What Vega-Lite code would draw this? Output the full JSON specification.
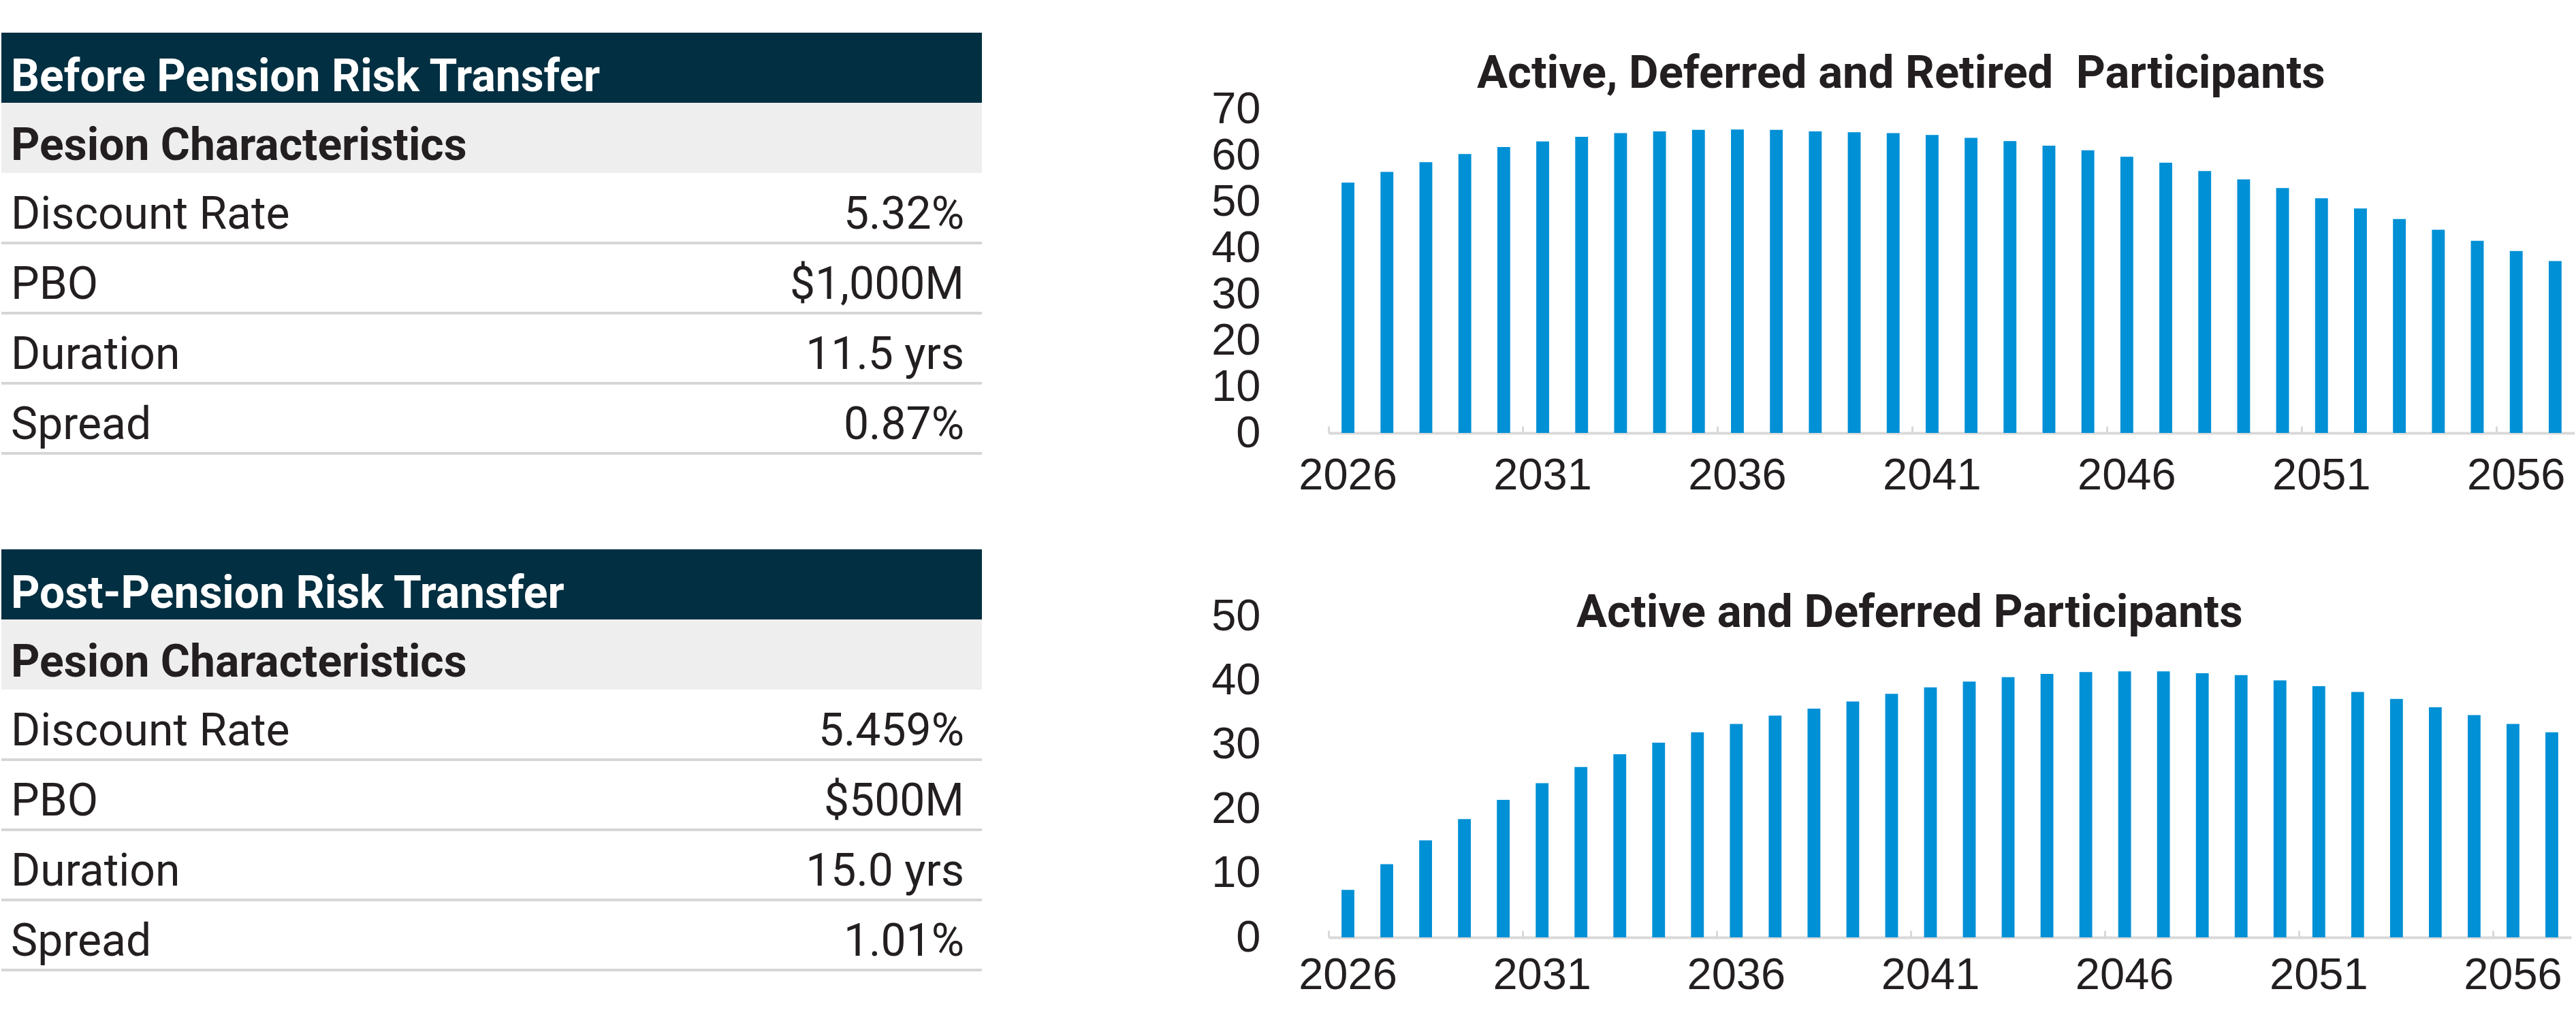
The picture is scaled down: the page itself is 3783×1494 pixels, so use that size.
{
  "$schema": "https://vega.github.io/schema/vega-lite/v6.json",
  "background": "#ffffff",
  "padding": {"top": 48, "left": 0, "right": 0, "bottom": 0},
  "config": {
    "view": {"stroke": null},
    "font": "Roboto"
  },
  "datasets": {
    "pension_tables": [
      {"table": "Before", "row": 1, "kind": "header", "label": "Before Pension Risk Transfer", "value": ""},
      {"table": "Before", "row": 2, "kind": "section", "label": "Pesion Characteristics", "value": ""},
      {"table": "Before", "row": 3, "kind": "item", "label": "Discount Rate", "value": "5.32%"},
      {"table": "Before", "row": 4, "kind": "item", "label": "PBO", "value": "$1,000M"},
      {"table": "Before", "row": 5, "kind": "item", "label": "Duration", "value": "11.5 yrs"},
      {"table": "Before", "row": 6, "kind": "item", "label": "Spread", "value": "0.87%"},
      {"table": "After", "row": 1, "kind": "header", "label": "Post-Pension Risk Transfer", "value": ""},
      {"table": "After", "row": 2, "kind": "section", "label": "Pesion Characteristics", "value": ""},
      {"table": "After", "row": 3, "kind": "item", "label": "Discount Rate", "value": "5.459%"},
      {"table": "After", "row": 4, "kind": "item", "label": "PBO", "value": "$500M"},
      {"table": "After", "row": 5, "kind": "item", "label": "Duration", "value": "15.0 yrs"},
      {"table": "After", "row": 6, "kind": "item", "label": "Spread", "value": "1.01%"}
    ],
    "all_participants": [
      {"year": "2026", "participants": 54.2}, {"year": "2027", "participants": 56.5},
      {"year": "2028", "participants": 58.6}, {"year": "2029", "participants": 60.4},
      {"year": "2030", "participants": 61.9}, {"year": "2031", "participants": 63.1},
      {"year": "2032", "participants": 64.1}, {"year": "2033", "participants": 64.9},
      {"year": "2034", "participants": 65.3}, {"year": "2035", "participants": 65.6},
      {"year": "2036", "participants": 65.7}, {"year": "2037", "participants": 65.6},
      {"year": "2038", "participants": 65.3}, {"year": "2039", "participants": 65.1},
      {"year": "2040", "participants": 64.9}, {"year": "2041", "participants": 64.5},
      {"year": "2042", "participants": 63.9}, {"year": "2043", "participants": 63.2},
      {"year": "2044", "participants": 62.2}, {"year": "2045", "participants": 61.2},
      {"year": "2046", "participants": 59.8}, {"year": "2047", "participants": 58.5},
      {"year": "2048", "participants": 56.7}, {"year": "2049", "participants": 54.9},
      {"year": "2050", "participants": 53.0}, {"year": "2051", "participants": 50.8},
      {"year": "2052", "participants": 48.6}, {"year": "2053", "participants": 46.3},
      {"year": "2054", "participants": 44.0}, {"year": "2055", "participants": 41.6},
      {"year": "2056", "participants": 39.4}, {"year": "2057", "participants": 37.2}
    ],
    "active_deferred": [
      {"year": "2026", "participants": 7.4}, {"year": "2027", "participants": 11.4},
      {"year": "2028", "participants": 15.1}, {"year": "2029", "participants": 18.4},
      {"year": "2030", "participants": 21.4}, {"year": "2031", "participants": 24.0},
      {"year": "2032", "participants": 26.5}, {"year": "2033", "participants": 28.5},
      {"year": "2034", "participants": 30.3}, {"year": "2035", "participants": 31.9},
      {"year": "2036", "participants": 33.2}, {"year": "2037", "participants": 34.5},
      {"year": "2038", "participants": 35.6}, {"year": "2039", "participants": 36.7},
      {"year": "2040", "participants": 37.9}, {"year": "2041", "participants": 38.9},
      {"year": "2042", "participants": 39.8}, {"year": "2043", "participants": 40.5},
      {"year": "2044", "participants": 41.0}, {"year": "2045", "participants": 41.3},
      {"year": "2046", "participants": 41.4}, {"year": "2047", "participants": 41.4},
      {"year": "2048", "participants": 41.1}, {"year": "2049", "participants": 40.8},
      {"year": "2050", "participants": 40.0}, {"year": "2051", "participants": 39.1},
      {"year": "2052", "participants": 38.2}, {"year": "2053", "participants": 37.1},
      {"year": "2054", "participants": 35.8}, {"year": "2055", "participants": 34.6},
      {"year": "2056", "participants": 33.2}, {"year": "2057", "participants": 31.9}
    ]
  },
  "spacing": 334,
  "hconcat": [
    {
      "spacing": 139,
      "vconcat": [
        {
          "width": 1440,
          "height": 618,
          "data": {"name": "pension_tables"},
          "transform": [{"filter": "datum.table === 'Before'"}],
          "encoding": {
            "y": {"field": "row", "type": "ordinal", "axis": null, "scale": {"paddingInner": 0, "paddingOuter": 0}}
          },
          "layer": [
            {
              "transform": [{"filter": "datum.kind !== 'item'"}],
              "mark": {"type": "rect"},
              "encoding": {
                "x": {"datum": 0, "type": "quantitative", "scale": {"domain": [0, 1]}, "axis": null},
                "x2": {"datum": 1},
                "color": {"field": "kind", "type": "nominal", "legend": null,
                  "scale": {"domain": ["header", "section"], "range": ["#022f41", "#eeeeee"]}}
              }
            },
            {
              "transform": [{"filter": "datum.kind === 'item'"}],
              "mark": {"type": "rule", "color": "#d6d6d6", "strokeWidth": 4},
              "encoding": {
                "x": {"datum": 0, "type": "quantitative"},
                "x2": {"datum": 1},
                "y": {"field": "row", "type": "ordinal", "bandPosition": 1}
              }
            },
            {
              "transform": [{"filter": "datum.kind === 'header'"}],
              "mark": {"type": "text", "align": "left", "baseline": "alphabetic", "dx": 14, "dy": 34, "fontSize": 66, "fontWeight": "bold", "color": "#ffffff"},
              "encoding": {"x": {"datum": 0, "type": "quantitative"}, "text": {"field": "label"}}
            },
            {
              "transform": [{"filter": "datum.kind === 'section'"}],
              "mark": {"type": "text", "align": "left", "baseline": "alphabetic", "dx": 14, "dy": 32, "fontSize": 66, "fontWeight": "bold", "color": "#231f20"},
              "encoding": {"x": {"datum": 0, "type": "quantitative"}, "text": {"field": "label"}}
            },
            {
              "transform": [{"filter": "datum.kind === 'item'"}],
              "mark": {"type": "text", "align": "left", "baseline": "alphabetic", "dx": 14, "dy": 30, "fontSize": 66, "color": "#231f20"},
              "encoding": {"x": {"datum": 0, "type": "quantitative"}, "text": {"field": "label"}}
            },
            {
              "transform": [{"filter": "datum.kind === 'item'"}],
              "mark": {"type": "text", "align": "right", "baseline": "alphabetic", "dx": -26, "dy": 30, "fontSize": 66, "color": "#231f20"},
              "encoding": {"x": {"datum": 1, "type": "quantitative"}, "text": {"field": "value"}}
            }
          ]
        },
        {
          "width": 1440,
          "height": 618,
          "data": {"name": "pension_tables"},
          "transform": [{"filter": "datum.table === 'After'"}],
          "encoding": {
            "y": {"field": "row", "type": "ordinal", "axis": null, "scale": {"paddingInner": 0, "paddingOuter": 0}}
          },
          "layer": [
            {
              "transform": [{"filter": "datum.kind !== 'item'"}],
              "mark": {"type": "rect"},
              "encoding": {
                "x": {"datum": 0, "type": "quantitative", "scale": {"domain": [0, 1]}, "axis": null},
                "x2": {"datum": 1},
                "color": {"field": "kind", "type": "nominal", "legend": null,
                  "scale": {"domain": ["header", "section"], "range": ["#022f41", "#eeeeee"]}}
              }
            },
            {
              "transform": [{"filter": "datum.kind === 'item'"}],
              "mark": {"type": "rule", "color": "#d6d6d6", "strokeWidth": 4},
              "encoding": {
                "x": {"datum": 0, "type": "quantitative"},
                "x2": {"datum": 1},
                "y": {"field": "row", "type": "ordinal", "bandPosition": 1}
              }
            },
            {
              "transform": [{"filter": "datum.kind === 'header'"}],
              "mark": {"type": "text", "align": "left", "baseline": "alphabetic", "dx": 14, "dy": 34, "fontSize": 66, "fontWeight": "bold", "color": "#ffffff"},
              "encoding": {"x": {"datum": 0, "type": "quantitative"}, "text": {"field": "label"}}
            },
            {
              "transform": [{"filter": "datum.kind === 'section'"}],
              "mark": {"type": "text", "align": "left", "baseline": "alphabetic", "dx": 14, "dy": 32, "fontSize": 66, "fontWeight": "bold", "color": "#231f20"},
              "encoding": {"x": {"datum": 0, "type": "quantitative"}, "text": {"field": "label"}}
            },
            {
              "transform": [{"filter": "datum.kind === 'item'"}],
              "mark": {"type": "text", "align": "left", "baseline": "alphabetic", "dx": 14, "dy": 30, "fontSize": 66, "color": "#231f20"},
              "encoding": {"x": {"datum": 0, "type": "quantitative"}, "text": {"field": "label"}}
            },
            {
              "transform": [{"filter": "datum.kind === 'item'"}],
              "mark": {"type": "text", "align": "right", "baseline": "alphabetic", "dx": -26, "dy": 30, "fontSize": 66, "color": "#231f20"},
              "encoding": {"x": {"datum": 1, "type": "quantitative"}, "text": {"field": "value"}}
            }
          ]
        }
      ]
    },
    {
      "spacing": 136,
      "vconcat": [
        {
          "width": 1830,
          "height": 588,
          "data": {"name": "all_participants"},
          "title": {
            "text": "Active, Deferred and Retired\u00a0 Participants",
            "font": "Roboto", "fontSize": 67, "fontWeight": "bold", "color": "#231f20",
            "offset": -95, "anchor": "middle", "frame": "bounds", "dx": 12
          },
          "mark": {"type": "bar", "color": "#0090d6", "width": {"band": 0.33}},
          "encoding": {
            "x": {
              "field": "year", "type": "ordinal", "title": null,
              "scale": {"paddingInner": 0, "paddingOuter": 0},
              "axis": {
                "values": ["2026", "2031", "2036", "2041", "2046", "2051", "2056"],
                "labelAngle": 0, "labelFont": "Liberation Sans", "labelFontSize": 65, "labelColor": "#231f20",
                "labelPadding": 41, "bandPosition": 0, "tickSize": -10, "tickWidth": 3, "tickColor": "#d9d9d9",
                "domainColor": "#d9d9d9", "domainWidth": 4, "grid": false
              }
            },
            "y": {
              "field": "participants", "type": "quantitative", "title": null,
              "scale": {"domain": [0, 86.65], "nice": false},
              "axis": {
                "values": [0, 10, 20, 30, 40, 50, 60, 70],
                "domain": false, "ticks": false, "grid": false,
                "labelFont": "Liberation Sans", "labelFontSize": 65, "labelColor": "#231f20", "labelPadding": 100
              }
            }
          }
        },
        {
          "width": 1825,
          "height": 472,
          "data": {"name": "active_deferred"},
          "title": {
            "text": "Active and Deferred Participants",
            "font": "Roboto", "fontSize": 67, "fontWeight": "bold", "color": "#231f20",
            "offset": -62, "anchor": "middle", "frame": "bounds", "dx": 27
          },
          "mark": {"type": "bar", "color": "#0090d6", "width": {"band": 0.33}},
          "encoding": {
            "x": {
              "field": "year", "type": "ordinal", "title": null,
              "scale": {"paddingInner": 0, "paddingOuter": 0},
              "axis": {
                "values": ["2026", "2031", "2036", "2041", "2046", "2051", "2056"],
                "labelAngle": 0, "labelFont": "Liberation Sans", "labelFontSize": 65, "labelColor": "#231f20",
                "labelPadding": 34, "bandPosition": 0, "tickSize": -10, "tickWidth": 3, "tickColor": "#d9d9d9",
                "domainColor": "#d9d9d9", "domainWidth": 4, "grid": false
              }
            },
            "y": {
              "field": "participants", "type": "quantitative", "title": null,
              "scale": {"domain": [0, 50], "nice": false},
              "axis": {
                "values": [0, 10, 20, 30, 40, 50],
                "domain": false, "ticks": false, "grid": false,
                "labelFont": "Liberation Sans", "labelFontSize": 65, "labelColor": "#231f20", "labelPadding": 100
              }
            }
          }
        }
      ]
    }
  ]
}
